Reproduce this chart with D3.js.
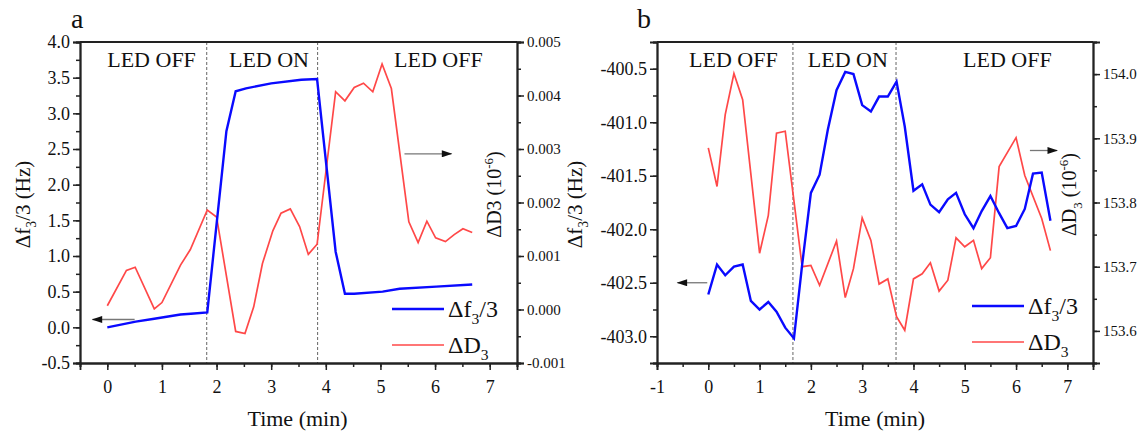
<!DOCTYPE html>
<html>
<head>
<meta charset="utf-8">
<script src="https://cdn.jsdelivr.net/npm/d3@7"></script>
<style>
  body { margin: 0; background: #fff; }
  .axis path, .axis line { stroke: #222; }
  .axis .domain { stroke-width: 1.8; }
  .axis .tick line { stroke-width: 1.5; }
</style>
</head>
<body>
<svg id="chart" width="1140" height="434"></svg>
<script>
// panel a: frequency shift (Hz) and dissipation shift
var timeA_f = [0, 0.52, 0.86, 1.34, 1.53, 1.83, 2.18, 2.35, 2.54, 3.0, 3.55, 3.84, 4.18, 4.35, 4.52, 5.04, 5.35, 6.02, 6.68];
var fA = [0.0, 0.08, 0.12, 0.18, 0.19, 0.21, 2.75, 3.31, 3.35, 3.42, 3.47, 3.48, 1.06, 0.47, 0.47, 0.50, 0.54, 0.57, 0.60];
var timeA_D = [0, 0.35, 0.51, 0.86, 1.0, 1.34, 1.52, 1.83, 2.0, 2.35, 2.52, 2.68, 2.84, 3.03, 3.18, 3.35, 3.52, 3.68, 3.84,
  4.18, 4.35, 4.52, 4.69, 4.86, 5.03, 5.2, 5.52, 5.69, 5.85, 6.01, 6.19, 6.35, 6.51, 6.68];
var dA = [0.00007, 0.00073, 0.00079, 0.00001, 0.00013, 0.00083, 0.00112, 0.00186, 0.00173, -0.00041, -0.00045, 0.00005,
  0.00086, 0.00147, 0.00180, 0.00188, 0.00155, 0.00103, 0.00122, 0.00407, 0.00390, 0.00415, 0.00423, 0.00407, 0.00459,
  0.00413, 0.00164, 0.00125, 0.00165, 0.00134, 0.00127, 0.00140, 0.00151, 0.00144];

// panel b
var timeB_f = [0, 0.17, 0.33, 0.5, 0.67, 0.83, 1.0, 1.17, 1.33, 1.5, 1.67, 1.83, 2.0, 2.17, 2.33, 2.5, 2.67, 2.83, 3.0, 3.17,
  3.33, 3.5, 3.67, 3.83, 4.0, 4.17, 4.33, 4.5, 4.67, 4.83, 5.0, 5.17, 5.33, 5.5, 5.67, 5.83, 6.0, 6.17, 6.33, 6.5, 6.67];
var fB = [-402.61, -402.33, -402.43, -402.35, -402.33, -402.67, -402.75, -402.68, -402.77, -402.92, -403.02, -402.33,
  -401.66, -401.49, -401.07, -400.70, -400.53, -400.55, -400.84, -400.90, -400.76, -400.76, -400.62, -401.04, -401.64,
  -401.58, -401.77, -401.84, -401.72, -401.66, -401.86, -401.99, -401.83, -401.69, -401.85, -401.99, -401.97, -401.81,
  -401.48, -401.47, -401.92];
var timeB_D = [0, 0.17, 0.33, 0.5, 0.67, 1.0, 1.17, 1.33, 1.5, 1.83, 2.0, 2.17, 2.5, 2.67, 2.83, 3.0, 3.17, 3.33, 3.5,
  3.67, 3.83, 4.0, 4.17, 4.33, 4.5, 4.67, 4.83, 5.0, 5.17, 5.33, 5.5, 5.67, 6.0, 6.17, 6.5, 6.67];
var dB = [153.885, 153.825, 153.937, 154.001, 153.960, 153.721, 153.780, 153.908, 153.911, 153.700, 153.702, 153.671,
  153.740, 153.652, 153.697, 153.776, 153.741, 153.673, 153.681, 153.622, 153.601, 153.681, 153.689, 153.706, 153.662,
  153.679, 153.745, 153.731, 153.741, 153.697, 153.714, 153.856, 153.901, 153.842, 153.775, 153.725];

var ledLabels = ["LED OFF", "LED ON", "LED OFF"];

var svg = d3.select("#chart");

var defs = svg.append("defs");
defs.append("marker")
    .attr("id", "head")
    .attr("viewBox", "0 0 12 8")
    .attr("refX", 11).attr("refY", 4)
    .attr("markerWidth", 12).attr("markerHeight", 7)
    .attr("markerUnits", "userSpaceOnUse")
    .attr("orient", "auto")
  .append("path")
    .attr("d", "M0,0 L12,4 L0,8 Z")
    .attr("fill", "#111");

function fmt(f) {
  return function(d) { return f(d).replace("\u2212", "-"); };
}

// builds a label from plain, subscript and superscript pieces
function richLabel(sel, parts, size) {
  parts.forEach(function(p) {
    var t = sel.append("tspan").text(p.t);
    if (p.sub) t.attr("font-size", size * 0.65).attr("dy", size * 0.28);
    else if (p.sup) t.attr("font-size", size * 0.65).attr("dy", -size * 0.4);
    if (p.back) t.attr("dy", p.back);
  });
}

function drawPanel(p) {
  var g = svg.append("g");
  var x = d3.scaleLinear().domain(p.xDomain).range([p.left, p.right]);
  var yl = d3.scaleLinear().domain(p.ylDomain).range([p.bottom, p.top]);
  var yr = d3.scaleLinear().domain(p.yrDomain).range([p.bottom, p.top]);

  // dashed separators
  p.switches.forEach(function(s) {
    g.append("line")
      .attr("x1", x(s)).attr("x2", x(s))
      .attr("y1", p.top).attr("y2", p.bottom)
      .attr("stroke", "#666").attr("stroke-width", 1)
      .attr("stroke-dasharray", "3,2");
  });

  // LED labels
  p.ledX.forEach(function(lx, i) {
    g.append("text")
      .attr("x", x(lx)).attr("y", p.top + 25)
      .attr("text-anchor", "middle")
      .attr("font-size", 22)
      .text(ledLabels[i]);
  });

  // lines
  var lineL = d3.line().x(function(d) { return x(d[0]); }).y(function(d) { return yl(d[1]); });
  var lineR = d3.line().x(function(d) { return x(d[0]); }).y(function(d) { return yr(d[1]); });

  g.append("path")
    .datum(d3.zip(p.tD, p.vD))
    .attr("d", lineR)
    .attr("fill", "none").attr("stroke", "#ff4848").attr("stroke-width", 1.7);
  g.append("path")
    .datum(d3.zip(p.tF, p.vF))
    .attr("d", lineL)
    .attr("fill", "none").attr("stroke", "#0a0aff").attr("stroke-width", 2.4);

  // arrows
  p.arrows.forEach(function(a) {
    var ys = a.side === "left" ? yl : yr;
    g.append("line")
      .attr("x1", x(a.x1)).attr("x2", x(a.x2))
      .attr("y1", ys(a.y)).attr("y2", ys(a.y))
      .attr("stroke", "#777").attr("stroke-width", 1.3)
      .attr("marker-end", "url(#head)");
  });

  // frame top
  g.append("line")
    .attr("x1", p.left).attr("x2", p.right)
    .attr("y1", p.top).attr("y2", p.top)
    .attr("stroke", "#222").attr("stroke-width", 1.8);

  // axes, minor first
  g.append("g").attr("class", "axis")
    .attr("transform", "translate(0," + p.bottom + ")")
    .call(d3.axisBottom(x).tickValues(p.xMinor).tickSize(4).tickFormat(""));
  g.append("g").attr("class", "axis")
    .attr("transform", "translate(0," + p.bottom + ")")
    .call(d3.axisBottom(x).tickValues(p.xTicks).tickSize(7).tickPadding(10).tickFormat(fmt(d3.format("d"))))
    .call(function(s) { s.selectAll("text").attr("font-size", 18); });

  g.append("g").attr("class", "axis")
    .attr("transform", "translate(" + p.left + ",0)")
    .call(d3.axisLeft(yl).tickValues(p.ylMinor).tickSize(4).tickFormat(""));
  g.append("g").attr("class", "axis")
    .attr("transform", "translate(" + p.left + ",0)")
    .call(d3.axisLeft(yl).tickValues(p.ylTicks).tickSize(7).tickPadding(3).tickFormat(fmt(d3.format(".1f"))))
    .call(function(s) { s.selectAll("text").attr("font-size", 18); });

  g.append("g").attr("class", "axis")
    .attr("transform", "translate(" + p.right + ",0)")
    .call(d3.axisRight(yr).tickValues(p.yrMinor).tickSize(4).tickFormat(""));
  g.append("g").attr("class", "axis")
    .attr("transform", "translate(" + p.right + ",0)")
    .call(d3.axisRight(yr).tickValues(p.yrTicks).tickSize(7).tickPadding(3).tickFormat(fmt(d3.format(p.yrFormat))))
    .call(function(s) { s.selectAll("text").attr("font-size", 15); });

  // panel letter
  g.append("text").attr("x", p.letterX).attr("y", 28)
    .attr("font-size", 28).text(p.letter);

  // x title
  g.append("text")
    .attr("x", (p.left + p.right) / 2 + p.titleShift).attr("y", 426)
    .attr("text-anchor", "middle").attr("font-size", 22)
    .text("Time (min)");

  // left title
  var lt = g.append("text")
    .attr("transform", "translate(" + p.ylTitleX + "," + ((p.top + p.bottom) / 2 + 2) + ") rotate(-90)")
    .attr("text-anchor", "middle").attr("font-size", 21);
  richLabel(lt, [{t: "\u0394f"}, {t: "3", sub: true}, {t: "/3 (Hz)", back: -21 * 0.28}], 21);

  // right title, drawn inside the frame
  var rt = g.append("text")
    .attr("transform", "translate(" + p.yrTitleX + "," + ((p.top + p.bottom) / 2 - 8) + ") rotate(-90)")
    .attr("text-anchor", "middle").attr("font-size", 20);
  richLabel(rt, p.yrTitle, 20);

  // legend
  var leg = g.append("g").attr("transform", "translate(" + p.legX + "," + p.legY + ")");
  leg.append("line").attr("x1", 0).attr("x2", 52).attr("y1", 0).attr("y2", 0)
    .attr("stroke", "#0a0aff").attr("stroke-width", 2.4);
  leg.append("line").attr("x1", 0).attr("x2", 52).attr("y1", 36).attr("y2", 36)
    .attr("stroke", "#ff4848").attr("stroke-width", 1.7);
  var l1 = leg.append("text").attr("x", 56).attr("y", 8).attr("font-size", 24);
  richLabel(l1, [{t: "\u0394f"}, {t: "3", sub: true}, {t: "/3", back: -24 * 0.28}], 24);
  var l2 = leg.append("text").attr("x", 56).attr("y", 44).attr("font-size", 24);
  richLabel(l2, [{t: "\u0394D"}, {t: "3", sub: true}], 24);
}

drawPanel({
  left: 80, right: 517, top: 42, bottom: 363,
  xDomain: [-0.5, 7.5], xTicks: d3.range(0, 8), xMinor: d3.range(-0.5, 7.6, 0.5),
  ylDomain: [-0.5, 4.0], ylTicks: d3.range(-0.5, 4.01, 0.5), ylMinor: d3.range(-0.5, 4.01, 0.25),
  yrDomain: [-0.001, 0.005], yrTicks: d3.range(-0.001, 0.00501, 0.001), yrMinor: d3.range(-0.001, 0.00501, 0.0005),
  yrFormat: ".3f",
  tF: timeA_f, vF: fA, tD: timeA_D, vD: dA,
  switches: [1.82, 3.85], ledX: [0.81, 2.96, 6.06],
  arrows: [{side: "left", x1: 0.5, x2: -0.27, y: 0.11}, {side: "right", x1: 5.44, x2: 6.3, y: 0.00291}],
  letter: "a", letterX: 71, titleShift: -1,
  ylTitleX: 30, yrTitleX: 501,
  yrTitle: [{t: "\u0394D3 (10"}, {t: "-6", sup: true}, {t: ")", back: 20 * 0.4}],
  legX: 392, legY: 309
});

drawPanel({
  left: 657, right: 1093, top: 42, bottom: 363,
  xDomain: [-1, 7.5], xTicks: d3.range(-1, 8), xMinor: d3.range(-1, 7.6, 0.5),
  ylDomain: [-403.25, -400.25], ylTicks: d3.range(-403.0, -400.49, 0.5), ylMinor: d3.range(-403.25, -400.24, 0.25),
  yrDomain: [153.55, 154.05], yrTicks: d3.range(153.6, 154.001, 0.1), yrMinor: d3.range(153.55, 154.051, 0.05),
  yrFormat: ".1f",
  tF: timeB_f, vF: fB, tD: timeB_D, vD: dB,
  switches: [1.65, 3.66], ledX: [0.49, 2.72, 5.83],
  arrows: [{side: "left", x1: -0.02, x2: -0.6, y: -402.5}, {side: "right", x1: 6.27, x2: 6.8, y: 153.881}],
  letter: "b", letterX: 637, titleShift: 0,
  ylTitleX: 582, yrTitleX: 1076,
  yrTitle: [{t: "\u0394D"}, {t: "3", sub: true}, {t: " (10", back: -20 * 0.28}, {t: "-6", sup: true}, {t: ")", back: 20 * 0.4}],
  legX: 972, legY: 306
});

// serif everywhere, set inline so the axis defaults do not win
svg.selectAll("text")
  .style("font-family", "'Liberation Serif', 'Times New Roman', serif")
  .style("fill", "#111");
</script>
</body>
</html>
